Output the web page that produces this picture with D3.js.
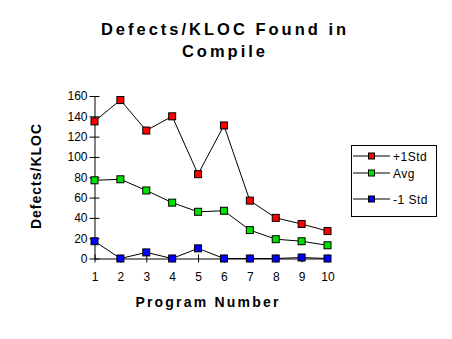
<!DOCTYPE html>
<html><head><meta charset="utf-8">
<script src="https://cdn.jsdelivr.net/npm/d3@7"></script>
<style>body{margin:0;background:#fff}svg{display:block}text{font-family:"Liberation Sans",Arial,sans-serif}</style>
</head><body><svg id="c" width="452" height="339"></svg>
<script>
const programs = [1,2,3,4,5,6,7,8,9,10];
const plus1Std = [135,156,126,140,83,131,57,40,34,27];
const avg = [77,78,67,55,46,47,28,19,17,13];
const minus1Std = [17,0,6,0,10,0,0,0,1,0];
const yTicks = [0,20,40,60,80,100,120,140,160];
const seriesNames = ["+1Std","Avg","-1 Std"];
const seriesColors = ["#ff0000","#00e000","#0000ff"];

const svg = d3.select("#c");
const x = d3.scalePoint().domain(programs).range([94.5,327.5]);
const y = d3.scaleLinear().domain([0,160]).range([258.5,96]);

// title
const title = svg.append("text").attr("text-anchor","middle").attr("font-weight","bold")
  .attr("font-size",16.5).attr("letter-spacing",3);
title.append("tspan").attr("x",225).attr("y",35).text("Defects/KLOC Found in");
title.append("tspan").attr("x",225).attr("y",57).text("Compile");

// y axis
const ya = svg.append("g").attr("transform","translate(94.5,0)")
  .call(d3.axisLeft(y).tickValues(yTicks).tickSize(0).tickPadding(7));
ya.select(".domain").attr("stroke","#000");
ya.selectAll(".tick").append("line").attr("x1",-5).attr("x2",5).attr("stroke","#000");
ya.selectAll("text").attr("font-size",12).attr("fill","#000").style("font-family","Liberation Sans, Arial, sans-serif");

// x axis
const xa = svg.append("g").attr("transform","translate(0,258.5)")
  .call(d3.axisBottom(x).tickSize(0).tickPadding(14));
xa.select(".domain").attr("stroke","#000");
xa.selectAll(".tick").append("line").attr("y1",-4).attr("y2",4).attr("stroke","#000");
xa.selectAll("text").attr("font-size",12).attr("fill","#000").style("font-family","Liberation Sans, Arial, sans-serif");

svg.append("text").attr("x",208).attr("y",307).attr("text-anchor","middle")
  .attr("font-weight","bold").attr("font-size",14).attr("letter-spacing",2.2).text("Program Number");
svg.append("text").attr("transform","translate(41,176) rotate(-90)").attr("text-anchor","middle")
  .attr("font-weight","bold").attr("font-size",14).attr("letter-spacing",1).text("Defects/KLOC");

const series = [plus1Std, avg, minus1Std];
const line = d3.line().x((d,i)=>x(programs[i])).y(d=>y(d));
series.forEach((s,k)=>{
  svg.append("path").attr("d",line(s)).attr("fill","none").attr("stroke","#000").attr("stroke-width",1);
  svg.selectAll(null).data(s).enter().append("rect")
    .attr("x",(d,i)=>x(programs[i])-3.5).attr("y",d=>y(d)-3.5)
    .attr("width",7).attr("height",7).attr("fill",seriesColors[k]).attr("stroke","#000").attr("stroke-width",1);
});

// legend
const lg = svg.append("g");
lg.append("rect").attr("x",351.5).attr("y",145.5).attr("width",85).attr("height",71).attr("fill","#fff").attr("stroke","#000");
const ly = [156,173,199];
seriesNames.forEach((n,k)=>{
  lg.append("line").attr("x1",353).attr("x2",390).attr("y1",ly[k]).attr("y2",ly[k]).attr("stroke","#000");
  lg.append("rect").attr("x",368.5).attr("y",ly[k]-3).attr("width",6).attr("height",6).attr("fill",seriesColors[k]).attr("stroke","#000");
  lg.append("text").attr("x",393).attr("y",ly[k]+4.5).attr("font-size",12).attr("letter-spacing",0.5).text(n);
});
</script></body></html>
